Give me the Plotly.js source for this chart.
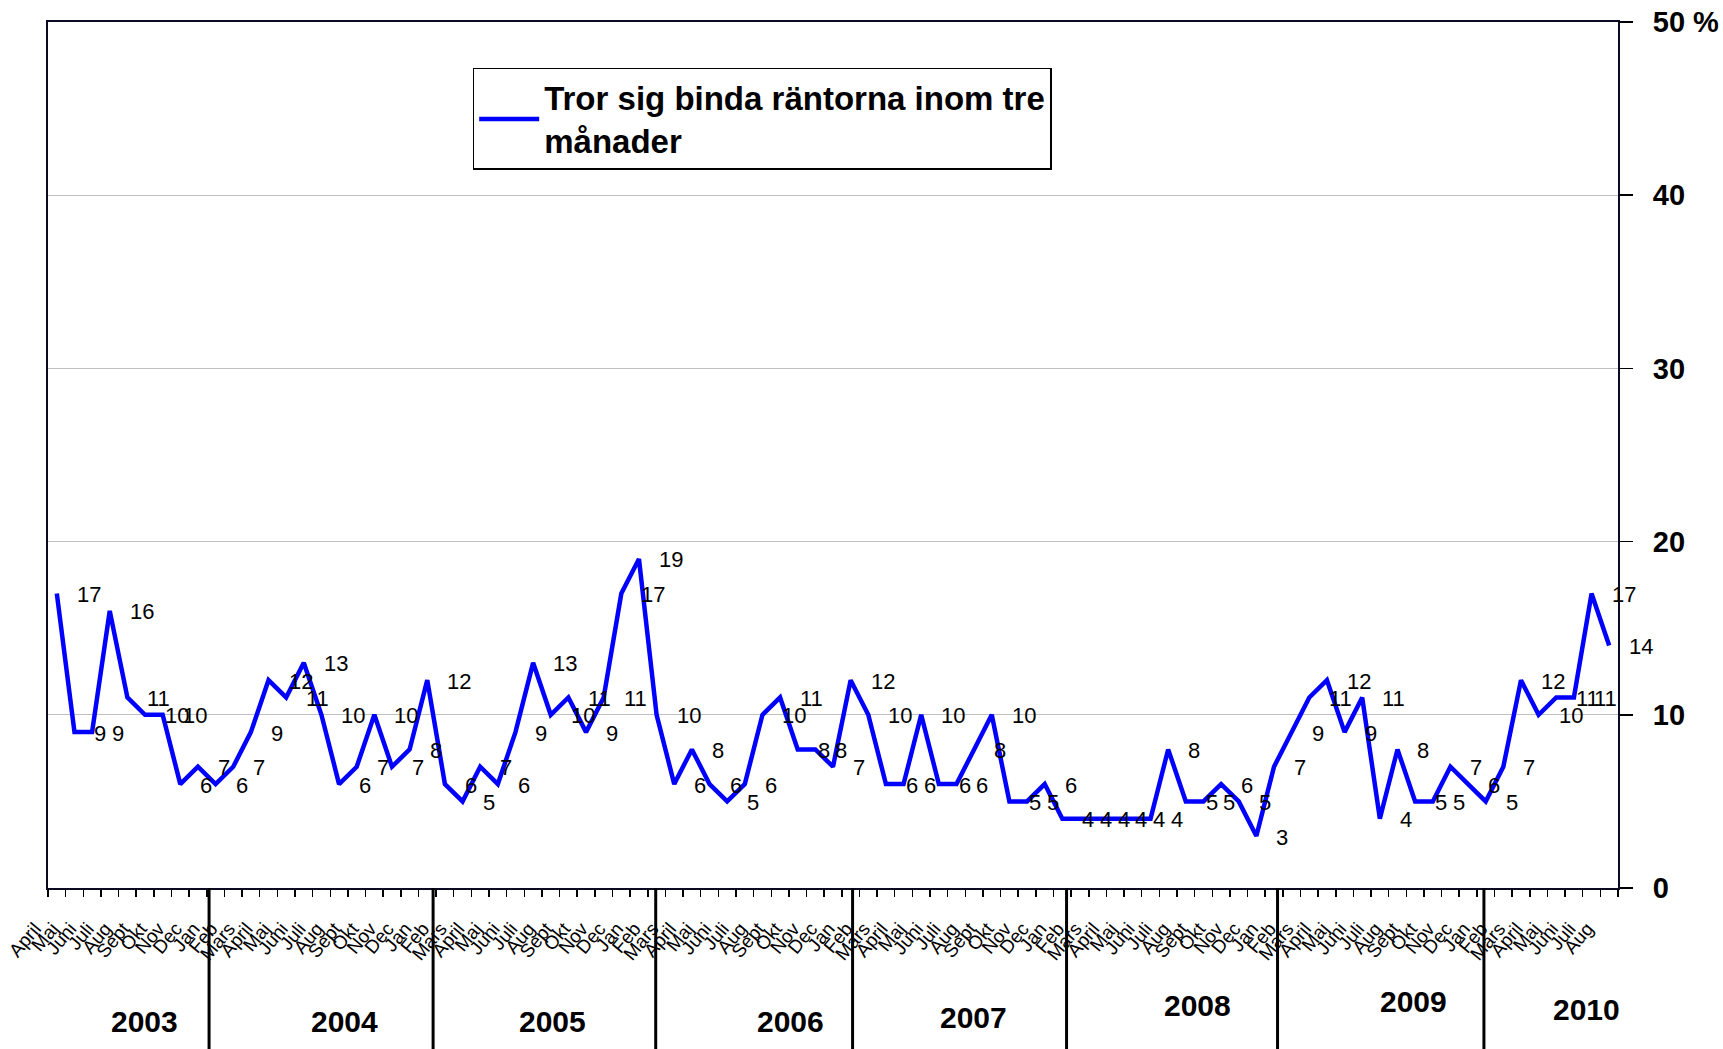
<!DOCTYPE html>
<html>
<head>
<meta charset="utf-8">
<script src="https://cdn.plot.ly/plotly-3.0.1.min.js"></script>
<style>
html,body{margin:0;padding:0;background:#ffffff;}
#chart{width:1723px;height:1049px;}
</style>
</head>
<body>
<div id="chart"></div>
<script>
// ---------------- data ----------------
const seriesName = 'Tror sig binda räntorna inom tre<br>månader';
const monthNames = ['Jan','Feb','Mars','April','Maj','Juni','Juli','Aug','Sept','Okt','Nov','Dec'];
const years = ['2003','2004','2005','2006','2007','2008','2009','2010'];
const firstMonth = 3;   // April 2003
const values2003 = [17,9,9,16,11,10,10,6,7];
const values2004 = [6,7,9,12,11,13,10,6,7,10,7,8];
const values2005 = [12,6,5,7,6,9,13,10,11,9,11,17];
const values2006 = [19,10,6,8,6,5,6,10,11,8,8,7];
const values2007 = [12,10,6,6,10,6,6,8,10,5,5,6];
const values2008 = [4,4,4,4,4,4,8,5,5,6,5,3];
const values2009 = [7,9,11,12,9,11,4,8,5,5,7,6];
const values2010 = [5,7,12,10,11,11,17,14];
const yTickVals = [0,10,20,30,40,50];
const yTickText = ['0','10','20','30','40','50 %'];

// -------------- derived ----------------
const values = [].concat(values2003,values2004,values2005,values2006,values2007,values2008,values2009,values2010);
const xIdx = values.map((v,i)=>i);
const monthLabels = values.map((v,i)=>monthNames[(firstMonth+i)%12]);
const boundaries = values.map((v,i)=>i-0.5).concat([values.length-0.5]);

// -------------- layout helpers (positions of hand-drawn year marks) ----------
const yearSepPos = [8.63, 21.33, 33.95, 45.11, 57.24, 69.2, 80.9];
const yearLabelPos = [
  {x:4.95, y:-0.1547},{x:16.29, y:-0.1547},{x:28.09, y:-0.1547},{x:41.59, y:-0.1547},
  {x:51.97, y:-0.149},{x:64.67, y:-0.136},{x:76.91, y:-0.1305},{x:86.74, y:-0.140}
];

const FONT = '"Liberation Sans", Arial, Helvetica, sans-serif';
const AXIS_COLOR = '#0a0a22';

const trace = {
  x: xIdx,
  y: values,
  type: 'scatter',
  mode: 'lines',
  name: seriesName,
  line: {color:'#0000ff', width:4.5},
  hoverinfo: 'skip'
};

const annotations = [];
values.forEach((v,i)=>{
  annotations.push({
    x: xIdx[i], y: v, xref:'x', yref:'y',
    text: String(v), showarrow:false,
    xanchor:'left', yanchor:'middle', xshift:18, yshift:-1,
    font:{family:FONT, size:22, color:'#000000'}
  });
});
years.forEach((yr,k)=>{
  annotations.push({
    x: yearLabelPos[k].x, y: yearLabelPos[k].y, xref:'x', yref:'paper',
    text: yr, showarrow:false, xanchor:'center', yanchor:'middle',
    font:{family:FONT, size:30, color:'#000000', weight:'bold'}
  });
});

const shapes = yearSepPos.map(px=>({
  type:'line', xref:'x', yref:'paper',
  x0:px, x1:px, y0:0, y1:-0.2,
  line:{color:'#000000', width:3}
}));

const layout = {
  width:1723, height:1049,
  margin:{l:48, r:105, t:22, b:161, pad:0},
  paper_bgcolor:'#ffffff', plot_bgcolor:'#ffffff',
  font:{family:FONT, color:'#000000'},
  showlegend:true,
  legend:{
    x:0.2705, y:0.9469, xanchor:'left', yanchor:'top',
    bgcolor:'#ffffff', bordercolor:'#000000', borderwidth:1.5,
    font:{family:FONT, size:33, color:'#000000', weight:'bold'},
    itemwidth:60
  },
  xaxis:{
    range:[-0.5, values.length-0.5],
    tickmode:'array', tickvals:xIdx, ticktext:monthLabels,
    tickangle:-50, ticks:'',
    tickfont:{family:FONT, size:19, color:'#000000'},
    ticklabelshift:-22, ticklabelstandoff:20,
    showline:true, linecolor:AXIS_COLOR, linewidth:2, mirror:true,
    showgrid:false, zeroline:false, fixedrange:true,
    minor:{tickmode:'array', tickvals:boundaries, ticks:'outside', ticklen:7, tickwidth:1.5, tickcolor:'#000000', showgrid:false}
  },
  yaxis:{
    side:'right', range:[0,50],
    tickmode:'array', tickvals:yTickVals, ticktext:yTickText,
    ticks:'outside', ticklen:13, tickwidth:1.5, tickcolor:'#000000',
    tickfont:{family:FONT, size:29, color:'#000000', weight:'bold'},
    ticklabelstandoff:14,
    showline:true, linecolor:AXIS_COLOR, linewidth:2, mirror:true,
    showgrid:true, gridcolor:'#c0c0c0', gridwidth:1,
    zeroline:false, fixedrange:true
  },
  annotations:annotations,
  shapes:shapes
};

Plotly.newPlot('chart', [trace], layout, {displayModeBar:false, staticPlot:true});
</script>
</body>
</html>
